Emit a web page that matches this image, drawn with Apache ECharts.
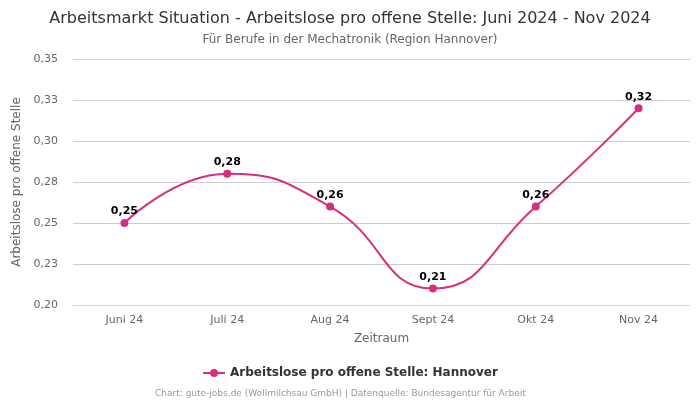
<!DOCTYPE html>
<html>
<head>
<meta charset="utf-8">
<script src="https://cdn.jsdelivr.net/npm/echarts@6/dist/echarts.min.js"></script>
<style>html,body{margin:0;padding:0;background:#fff}#c{width:700px;height:400px}</style>
</head>
<body>
<div id="c"></div>
<script>
var categories = ['Juni 24', 'Juli 24', 'Aug 24', 'Sept 24', 'Okt 24', 'Nov 24'];
var values = [0.25, 0.28, 0.26, 0.21, 0.26, 0.32];
var seriesName = 'Arbeitslose pro offene Stelle: Hannover';

function fmt(v) {
  return (Math.round(v * 1000) / 1000 + 1e-9).toFixed(2).replace('.', ',');
}

var chart = echarts.init(document.getElementById('c'), null, {renderer: 'canvas'});
chart.setOption({
  animation: false,
  backgroundColor: '#ffffff',
  textStyle: {fontFamily: 'DejaVu Sans'},
  title: [{
    text: 'Arbeitsmarkt Situation - Arbeitslose pro offene Stelle: Juni 2024 - Nov 2024',
    subtext: 'Für Berufe in der Mechatronik (Region Hannover)',
    left: 'center', top: 6,
    itemGap: 7,
    textStyle: {fontSize: 16, fontWeight: 'normal', color: '#333333', fontFamily: 'DejaVu Sans'},
    subtextStyle: {fontSize: 12, color: '#666666', fontFamily: 'DejaVu Sans'}
  }, {
    text: 'Chart: gute-jobs.de (Wollmilchsau GmbH) | Datenquelle: Bundesagentur für Arbeit',
    left: 150, top: 384,
    textStyle: {fontSize: 9, fontWeight: 'normal', color: '#999999', fontFamily: 'DejaVu Sans'}
  }],
  legend: {
    data: [seriesName],
    top: 362, left: 'center',
    itemWidth: 22, itemHeight: 10,
    textStyle: {fontSize: 12, fontWeight: 'bold', color: '#333333', fontFamily: 'DejaVu Sans'}
  },
  grid: {left: 73, right: 10, top: 59, bottom: 95},
  xAxis: {
    type: 'category',
    data: categories,
    boundaryGap: true,
    name: 'Zeitraum',
    nameLocation: 'middle',
    nameGap: 28,
    nameTextStyle: {fontSize: 12, color: '#666666'},
    axisLine: {show: true, lineStyle: {color: '#ccd6eb'}},
    axisTick: {show: false},
    axisLabel: {fontSize: 11, color: '#666666', margin: 10}
  },
  yAxis: {
    type: 'value',
    min: 0.2, max: 0.35, interval: 0.025,
    name: 'Arbeitslose pro offene Stelle',
    nameLocation: 'middle',
    nameGap: 42,
    nameTextStyle: {fontSize: 12, color: '#666666'},
    axisLine: {show: false},
    axisTick: {show: false},
    splitLine: {lineStyle: {color: '#cccccc'}},
    axisLabel: {fontSize: 11, color: '#666666', margin: 15, formatter: fmt}
  },
  series: [{
    name: seriesName,
    type: 'line',
    data: values,
    smooth: true,
    symbol: 'circle',
    symbolSize: 8,
    itemStyle: {color: '#d62f7f'},
    lineStyle: {color: '#d62f7f', width: 2},
    label: {
      show: true, position: 'top', distance: 2,
      fontSize: 11, fontWeight: 'bold', color: '#000000',
      formatter: function (p) { return fmt(p.value); }
    }
  }]
});
</script>
</body>
</html>
